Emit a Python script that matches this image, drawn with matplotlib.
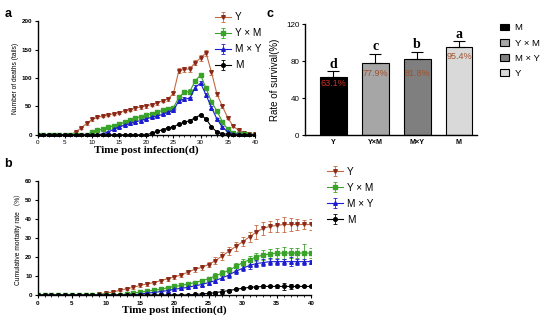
import numpy as np
import matplotlib
matplotlib.use("Agg")
import matplotlib.pyplot as plt
from matplotlib.ticker import MultipleLocator

plt.rcParams['font.family'] = ['Liberation Sans', 'DejaVu Sans']

# ---- data ----
days = list(range(0, 41))
groups = ['Y', 'Y × M', 'M × Y', 'M']

# panel a: number of deaths per day
deaths_Y = [0, 0, 0, 0, 0, 0, 0, 5, 12, 20, 27, 31, 33, 35, 37, 39, 42, 44, 47, 49, 51,
            53, 56, 60, 63, 73, 113, 115, 116, 127, 135, 144, 110, 72, 50, 30, 15, 8, 4, 2, 1]
deaths_YM = [0, 0, 0, 0, 0, 0, 0, 0, 0, 0, 5, 8, 10, 13, 16, 19, 22, 26, 29, 32, 35,
             37, 40, 43, 46, 48, 66, 75, 76, 95, 105, 82, 58, 42, 23, 10, 4, 2, 1, 0, 0]
deaths_MY = [0, 0, 0, 0, 0, 0, 0, 0, 0, 0, 0, 0, 2, 5, 10, 14, 17, 20, 23, 25, 28,
             31, 33, 36, 40, 43, 60, 63, 64, 83, 91, 70, 48, 28, 14, 5, 2, 1, 0, 0, 0]
deaths_M = [0, 0, 0, 0, 0, 0, 0, 0, 0, 0, 0, 0, 0, 0, 0, 0, 0, 0, 0, 0, 0,
            3, 6, 9, 12, 14, 19, 22, 25, 30, 35, 28, 14, 5, 2, 1, 0, 0, 0, 0, 0]
err_a_Y = [0, 0, 0, 0, 0, 0, 0, 1, 2, 2, 2, 2, 2, 2, 2, 2, 2, 2, 3, 3, 3,
           3, 3, 3, 3, 3, 5, 5, 5, 5, 5, 6, 4, 4, 3, 3, 2, 1, 1, 1, 1]
err_a_YM = [0, 0, 0, 0, 0, 0, 0, 0, 0, 0, 1, 1, 1, 2, 2, 2, 2, 2, 2, 2, 2,
            2, 2, 3, 3, 3, 4, 4, 4, 4, 4, 3, 3, 3, 2, 2, 1, 1, 1, 0, 0]
err_a_MY = [0, 0, 0, 0, 0, 0, 0, 0, 0, 0, 0, 0, 1, 1, 2, 2, 2, 2, 2, 2, 2,
            2, 2, 2, 3, 3, 3, 3, 3, 4, 4, 3, 3, 2, 2, 1, 1, 0, 0, 0, 0]
err_a_M = [0, 0, 0, 0, 0, 0, 0, 0, 0, 0, 0, 0, 0, 0, 0, 0, 0, 0, 0, 0, 0,
           1, 1, 1, 1, 1, 1, 2, 2, 2, 2, 2, 1, 1, 1, 0, 0, 0, 0, 0, 0]

# panel b: cumulative mortality rate (%)
cum_Y = [0, 0, 0, 0, 0, 0, 0, 0, 0, 0.3, 1, 1.5, 2.5, 3.2, 4, 5, 5.8, 6.5, 7.5, 8.5, 9.5,
         10.5, 12, 13.5, 14.5, 16, 18, 20.5, 23, 25.5, 28, 30.5, 33, 35, 36, 36.5, 37, 37, 37, 37, 37]
cum_YM = [0, 0, 0, 0, 0, 0, 0, 0, 0, 0, 0, 0, 0, 0.5, 1, 1.5, 2, 2.5, 3, 3.8, 4.5,
          5, 5.8, 6.5, 7.5, 8.5, 10, 11.5, 13, 15, 17, 18.5, 20, 21, 21.5, 22, 22, 22, 22, 22, 22]
cum_MY = [0, 0, 0, 0, 0, 0, 0, 0, 0, 0, 0, 0, 0, 0, 0, 0.5, 1, 1.3, 1.8, 2.3, 3,
          3.5, 4, 4.8, 5.5, 6.5, 7.5, 9, 10.5, 12.5, 14, 15.5, 16.5, 17, 17.5, 17.5, 17.5, 17.5, 17.5, 17.5, 17.5]
cum_M = [0, 0, 0, 0, 0, 0, 0, 0, 0, 0, 0, 0, 0, 0, 0, 0, 0, 0, 0, 0, 0,
         0, 0, 0.3, 0.5, 0.8, 1.2, 1.8, 2.3, 3, 3.5, 4, 4.2, 4.5, 4.5, 4.5, 4.5, 4.5, 4.5, 4.5, 4.5]
err_b_Y = [0, 0, 0, 0, 0, 0, 0, 0, 0, 0.3, 0.5, 0.5, 0.6, 0.7, 0.8, 0.8, 0.9, 0.9, 1, 1, 1,
           1.1, 1.2, 1.3, 1.4, 1.5, 1.8, 2, 2.2, 2.5, 2.5, 2.8, 3.5, 3.5, 3, 3.5, 4, 3.5, 3, 2.5, 3]
err_b_YM = [0, 0, 0, 0, 0, 0, 0, 0, 0, 0, 0, 0, 0, 0.3, 0.5, 0.5, 0.6, 0.6, 0.7, 0.8, 0.8,
            0.9, 1, 1, 1.1, 1.2, 1.4, 1.5, 1.6, 1.8, 2, 2, 2.2, 2.5, 2.5, 2.5, 3, 2.5, 2.5, 5, 2.5]
err_b_MY = [0, 0, 0, 0, 0, 0, 0, 0, 0, 0, 0, 0, 0, 0, 0, 0.3, 0.5, 0.5, 0.6, 0.6, 0.7,
            0.8, 0.8, 0.9, 1, 1.1, 1.2, 1.3, 1.4, 1.5, 1.6, 1.8, 2, 2, 2, 1.5, 1.5, 2.5, 1.5, 1.5, 1]
err_b_M = [0, 0, 0, 0, 0, 0, 0, 0, 0, 0, 0, 0, 0, 0, 0, 0, 0, 0, 0, 0, 0,
           0, 0, 0.3, 0.3, 0.5, 0.8, 1.5, 0.8, 0.5, 0.5, 0.5, 0.5, 0.8, 0.5, 1, 2, 1.5, 0.5, 0.5, 0.5]

# panel c: survival rate
bar_cats = ['Y', 'Y×M', 'M×Y', 'M']
survival = [63.1, 77.9, 81.8, 95.4]
survival_err = [6, 10, 8, 6]
sig_letters = ['d', 'c', 'b', 'a']
bar_legend = ['M', 'Y × M', 'M × Y', 'Y']

line_colors = ['#c46a40', '#3aa32a', '#1c1cd0', '#000000']
marker_colors = ['#8b2a1a', '#3aa32a', '#1c1cd0', '#000000']
markers = ['v', 's', '^', 'o']
bar_colors = ['#000000', '#a6a6a6', '#7f7f7f', '#d9d9d9']
pct_colors = ['#c8322a', '#a0522d', '#a0522d', '#a0522d']
pct_offset = [-7, -11, -15, -10]

serif = ['Liberation Serif', 'DejaVu Serif']

fig = plt.figure(figsize=(5.5, 3.22), dpi=100)


def style_axes(ax, bold=True):
    for s in ['top', 'right']:
        ax.spines[s].set_visible(False)
    for s in ['left', 'bottom']:
        ax.spines[s].set_linewidth(1.0)
    ax.tick_params(axis='both', labelsize=4.5, width=0.8, length=2.5, pad=1.5)
    if bold:
        for lab in ax.get_xticklabels() + ax.get_yticklabels():
            lab.set_fontweight('bold')


def time_panel(ax, series, errs, ymax, ystep, ylabel, legend_anchor):
    handles = []
    for y, e, lc, mc, m, g in zip(series, errs, line_colors, marker_colors, markers, groups):
        h = ax.errorbar(days, y, yerr=e, color=lc, ecolor=lc, elinewidth=0.6, capsize=1.3,
                        capthick=0.6, lw=0.8, marker=m, ms=2.6, mfc=mc, mec=mc, label=g)
        handles.append(h)
    ax.set_xlim(0, 40)
    ax.set_ylim(0, ymax)
    ax.xaxis.set_major_locator(MultipleLocator(5))
    ax.xaxis.set_minor_locator(MultipleLocator(1))
    ax.yaxis.set_major_locator(MultipleLocator(ystep))
    ax.tick_params(axis='x', which='minor', length=1.3, width=0.6)
    style_axes(ax)
    ax.set_xlabel('Time post infection(d)', family=serif, fontweight='bold', fontsize=8, labelpad=0)
    ax.set_ylabel(ylabel, fontsize=4.8, labelpad=2)
    leg = fig.legend(handles=handles, labels=groups, loc='upper left', bbox_to_anchor=legend_anchor,
                     frameon=False, fontsize=7.2, handlelength=1.6, labelspacing=0.6,
                     handletextpad=0.4)
    return leg


# panel a
ax_a = fig.add_axes([0.0685, 0.5786, 0.395, 0.356])
time_panel(ax_a, [deaths_Y, deaths_YM, deaths_MY, deaths_M],
           [err_a_Y, err_a_YM, err_a_MY, err_a_M], 200, 50,
           'Number of deaths (tails)', (0.375, 0.99))
ax_a.set_ylim(-1.5, 200)
ax_a.spines['bottom'].set_position(('data', 0))

# panel b
ax_b = fig.add_axes([0.0685, 0.0839, 0.497, 0.355])
time_panel(ax_b, [cum_Y, cum_YM, cum_MY, cum_M],
           [err_b_Y, err_b_YM, err_b_MY, err_b_M], 60, 10,
           'Cumulative mortality rate （%）', (0.578, 0.51))
ax_b.yaxis.label.set_family(['Liberation Sans', 'Noto Sans CJK SC'])

# panel c
ax_c = fig.add_axes([0.5545, 0.5807, 0.3127, 0.3447])
x = np.arange(len(bar_cats))
bars = ax_c.bar(x, survival, width=0.64, color=bar_colors, edgecolor='black', linewidth=0.8)
ax_c.errorbar(x, survival, yerr=[[0] * 4, survival_err], fmt='none', ecolor='black',
              elinewidth=0.8, capsize=4, capthick=0.8)
for xi, v, e, s, pc, po in zip(x, survival, survival_err, sig_letters, pct_colors, pct_offset):
    ax_c.text(xi, v + e + 0.5, s, ha='center', va='bottom', family=serif,
              fontweight='bold', fontsize=10)
    ax_c.text(xi, v + po, f'{v}%', ha='center', va='center', color=pc, fontsize=6.5)
ax_c.set_xlim(-0.68, 3.43)
ax_c.set_ylim(0, 120)
ax_c.yaxis.set_major_locator(MultipleLocator(40))
ax_c.set_xticks(x)
ax_c.set_xticklabels(bar_cats)
style_axes(ax_c, bold=False)
for lab in ax_c.get_xticklabels():
    lab.set_fontweight('bold')
ax_c.tick_params(axis='x', labelsize=5.2, length=0, pad=3)
ax_c.tick_params(axis='y', labelsize=5.8)
ax_c.set_ylabel('Rate of survival(%)', fontsize=7, labelpad=4)
fig.legend(handles=list(bars), labels=bar_legend, loc='upper left', bbox_to_anchor=(0.898, 0.945),
           frameon=False, fontsize=6.8, handlelength=1.0, handleheight=0.7, labelspacing=0.65,
           handletextpad=0.6, borderaxespad=0.2)

# panel letters
fig.text(0.008, 0.975, 'a', fontsize=9, fontweight='bold', va='top')
fig.text(0.008, 0.51, 'b', fontsize=9, fontweight='bold', va='top')
fig.text(0.484, 0.975, 'c', fontsize=9, fontweight='bold', va='top')

fig.savefig('out.png', dpi=100)
